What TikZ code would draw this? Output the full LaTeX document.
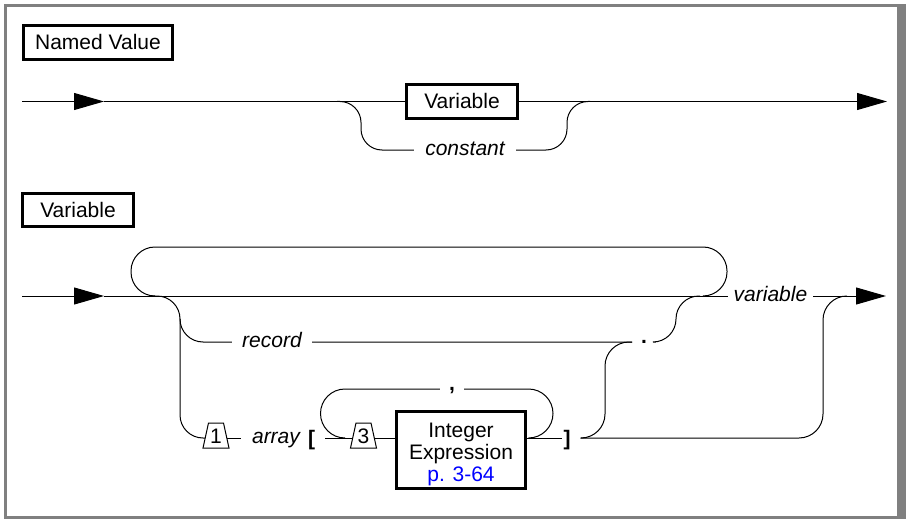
\documentclass[tikz,border=0pt]{standalone}
\usepackage{fontspec}
\setmainfont{Liberation Sans}
\usetikzlibrary{arrows.meta,calc}
\definecolor{framegray}{RGB}{128,128,128}
\definecolor{linkblue}{RGB}{0,0,255}
\begin{document}
\begin{tikzpicture}[x=1pt,y=-1pt,
  line width=1pt,
  every node/.style={font=\fontsize{21}{22}\selectfont, inner sep=0pt},
  tip/.style={-{Triangle[length=30pt,width=17pt]}},
  ntbox/.style={draw, line width=3pt, minimum width=111pt, minimum height=33.6pt, text height=15pt, text depth=0pt},
  lbl/.style={font=\fontsize{21}{22}\selectfont\itshape, text height=11pt, text depth=0pt, inner xsep=10pt, inner ysep=2pt},
  sym/.style={font=\fontsize{21}{22}\selectfont\bfseries, inner ysep=2pt},
  brk/.style={font=\fontsize{21}{22}\selectfont\bfseries, text height=14pt, text depth=0pt, inner xsep=0pt},
  num/.style={text height=15pt, text depth=0pt},
]
\useasboundingbox (0,0) rectangle (906,519);
\fill[framegray] (4,4) rectangle (906,519);
\fill[white] (7,7) rectangle (897,516);

% ---------- Named Value ----------
\node[ntbox, minimum width=149pt, minimum height=34pt] (nv) at (98,42.5) {Named Value};
\coordinate (s1) at (22,101.5);
\coordinate (a1) at (104,101.5);
\coordinate (e1) at (887,101.5);
\coordinate (c1) at (337,101.5);
\coordinate (c2) at (590,101.5);
\node[ntbox] (vtop) at (462,101.5) {Variable};
\draw[tip] (s1) -- (a1);
\draw (a1) -- (vtop.west);
\draw[tip] (vtop.east) -- (e1);
\draw[rounded corners=21pt] (c1) -- (361,101.5) -- (361,150) -- (567,150) -- (567,101.5) -- (c2);
\node[lbl, fill=white, inner xsep=11pt] (const) at (465,150) {constant};

% ---------- Variable ----------
\node[ntbox] (vlab) at (78,210) {Variable};
\coordinate (s2) at (22,296);
\coordinate (a2) at (104,296);
\coordinate (e2) at (886,296);
\coordinate (fk) at (153,296);
\node[lbl, inner xsep=5.5pt] (var) at (770.5,296) {variable};
\draw[tip] (s2) -- (a2);
\draw (a2) -- (var.west);
\draw[tip] (var.east) -- (e2);

% top bypass loop
\draw[rounded corners=24pt] (155,296) -- (131,296) -- (131,247) -- (727,247) -- (727,296) -- (703,296);

% nodes on the lower rows
\node[sym, inner xsep=8.5pt, text height=2pt, text depth=0pt] (dot) at (644,342) {.};
\node[num] (t1) at (216,435.5) {1};
\node[num] (t3) at (363.5,435.5) {3};
\coordinate (t1l) at ($(t1.center)+(-10.8,2.5)$);
\coordinate (t1r) at ($(t1.center)+(10.8,2.5)$);
\coordinate (t3l) at ($(t3.center)+(-10.8,2.5)$);
\coordinate (t3r) at ($(t3.center)+(10.8,2.5)$);
\draw (t1.center) ++(-13,12.5) -- ++(5.5,-25) -- ++(15,0) -- ++(5.5,25) -- cycle;
\draw (t3.center) ++(-13,12.5) -- ++(5.5,-25) -- ++(15,0) -- ++(5.5,25) -- cycle;
\node[lbl, inner xsep=11pt] (arr) at (276,438) {array};
\node[brk] (lb) at (311.5,438) {[};
\node[brk] (rb) at (567,438) {]};
\node[draw, line width=3pt, minimum width=129pt, minimum height=77pt] (ie) at (461,450) {};
\node[align=center] (iet) at (461,454.4) {Integer\\Expression\\\textcolor{linkblue}{p. 3-64}};
\coordinate (rbo) at ([xshift=9.5pt]rb.east);

% record / array branches
\draw[rounded corners=23pt] (fk) -- (180,296) -- (180,438) -- (t1l);
\draw[rounded corners=23pt] (180,319) -- (180,342) -- (dot.west);
\node[lbl, fill=white] (rec) at (272,342) {record};
\draw (t1r) -- (arr.west);
\draw ([xshift=10pt]lb.east) -- (t3l);
\draw (t3r) -- (t3r -| ie.west);
\draw (t3r -| ie.east) -- ([xshift=-1pt]rb.west);

% comma loop
\draw[rounded corners=24.5pt] (345,438) -- (320.5,438) -- (320.5,389) -- (553,389) -- (553,438) -- (528.5,438);
\node[sym, fill=white, inner xsep=9.5pt, text height=3pt, text depth=0pt] (cm) at (452,389) {,};

% returns
\draw[rounded corners=24pt] (rbo) -- (605,438) -- (605,342) -- (dot.west);
\draw[rounded corners=24pt] (rbo) -- (823,438) -- (823,296) -- (847,296);
\draw[rounded corners=23pt] (dot.east) -- (676,342) -- (676,296) -- (700,296);
\end{tikzpicture}
\end{document}
